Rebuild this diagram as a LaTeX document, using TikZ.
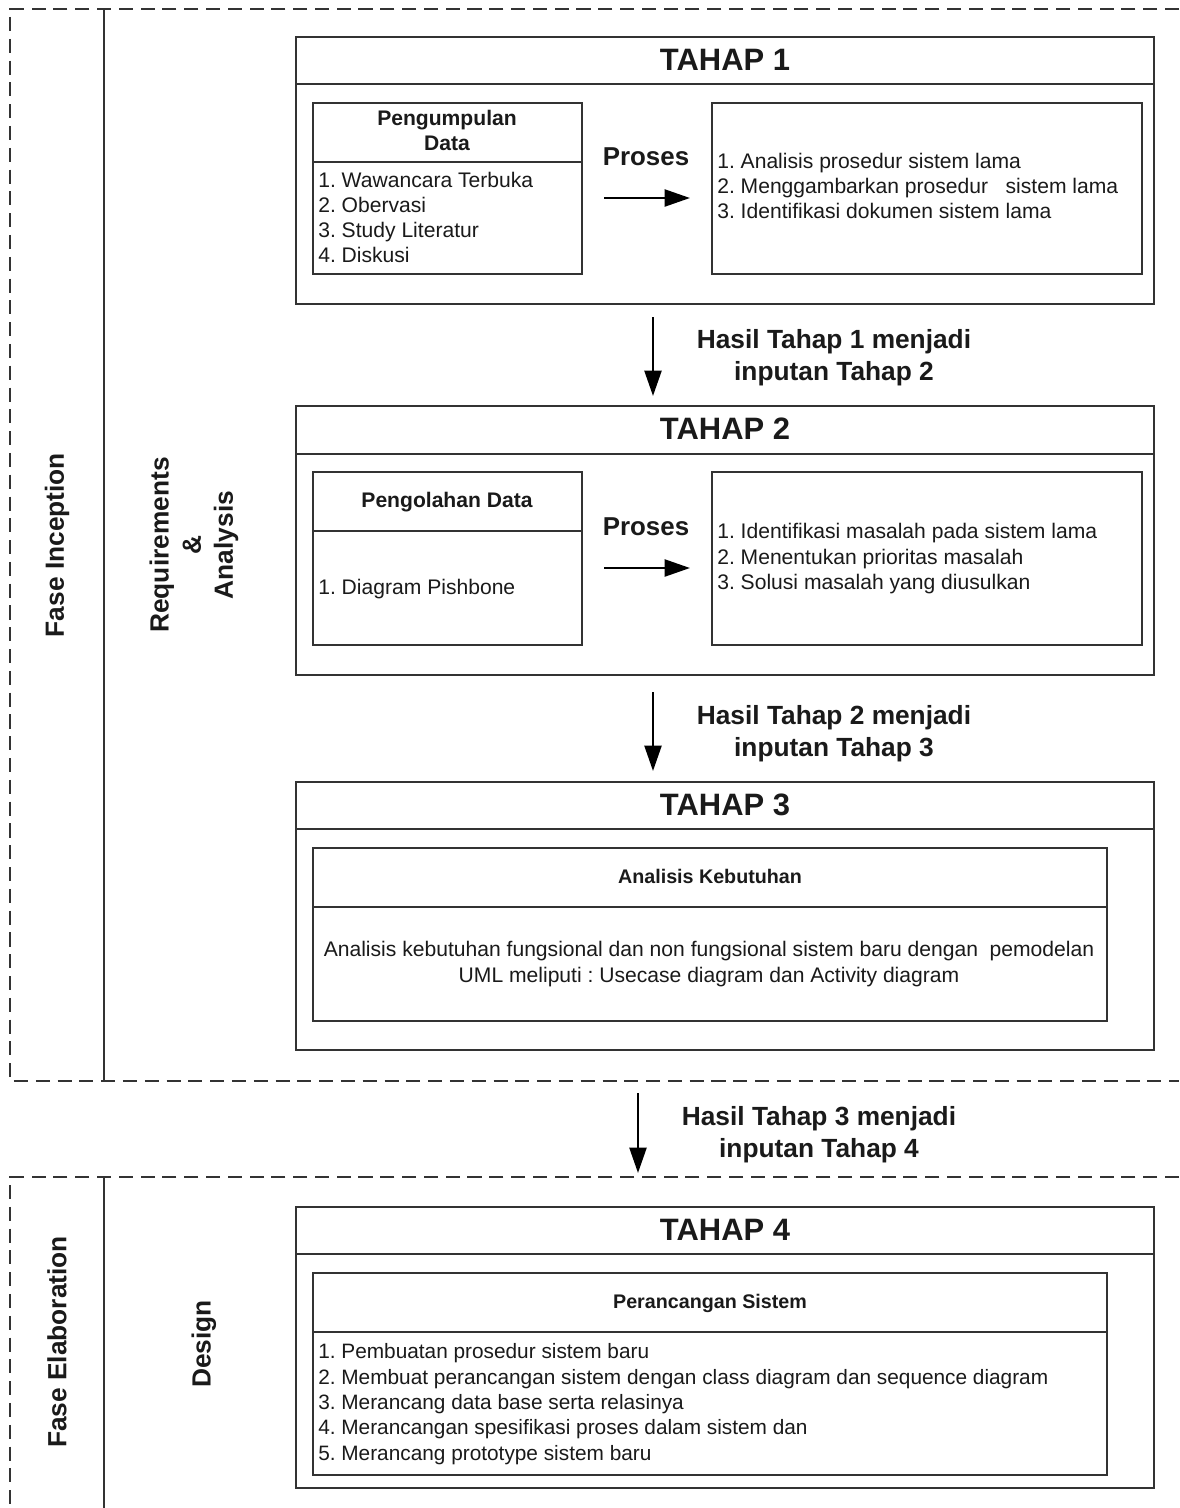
\documentclass[tikz,border=0pt]{standalone}
\usepackage{fontspec}
\setmainfont{Liberation Sans}
\usetikzlibrary{fit,arrows.meta}
\definecolor{linec}{HTML}{333333}
\definecolor{textc}{HTML}{1A1A1A}
\frenchspacing
\tikzset{
  box/.style={draw=linec, line width=1.4pt, inner sep=0pt, fit={#1}},
  sep/.style={draw=linec, line width=1.4pt},
  dashb/.style={draw=linec, line width=1.3pt, dash pattern=on 10pt off 5.5pt},
  lane/.style={draw=linec, line width=1.3pt},
  arr/.style={draw=black, line width=1.8pt, -{Triangle[length=18pt,width=12pt]}},
  title/.style={font=\fontsize{22}{26}\selectfont\bfseries, text=textc, inner sep=0pt},
  proses/.style={font=\fontsize{18.4}{22}\selectfont\bfseries, text=textc, inner sep=0pt, anchor=base},
  hasil/.style={font=\fontsize{18.7}{22.8}\selectfont\bfseries, text=textc, inner sep=0pt, anchor=base},
  body/.style={font=\fontsize{15}{18}\selectfont\frenchspacing, text=textc, inner sep=0pt, anchor=base west},
  bodyn/.style={font=\fontsize{14.8}{18}\selectfont\frenchspacing, text=textc, inner sep=0pt, anchor=base west},
  bodyc/.style={font=\fontsize{15}{18}\selectfont\frenchspacing, text=textc, inner sep=0pt, anchor=base},
  head/.style={font=\fontsize{15}{18}\selectfont\bfseries, text=textc, inner sep=0pt, anchor=base},
  headw/.style={font=\fontsize{14}{17}\selectfont\bfseries, text=textc, inner sep=0pt, anchor=base},
  side/.style={font=\fontsize{18.7}{22.8}\selectfont\bfseries, text=textc, inner sep=0pt, rotate=90, align=center},
}
\begin{document}
\begin{tikzpicture}[x=0.025cm,y=-0.025cm]
\useasboundingbox (0,0) rectangle (1179,1508);
\fill[white] (0,0) rectangle (1179,1508);

% ---------- phase frames ----------
\draw[dashb] (1179,9) -- (10,9) -- (10,1081) -- (1179,1081);
\draw[lane] (104,9) -- (104,1081);
\draw[dashb] (1179,1177) -- (10,1177) -- (10,1508);
\draw[lane] (104,1177) -- (104,1508);

\node[side] (fi) at (57,545) {Fase Inception};
\node[side] (ra) at (194,545) {Requirements\\\&\\Analysis};
\node[side] (fe) at (57,1342) {Fase Elaboration};
\node[side] (ds) at (204,1344) {Design};

% ---------- TAHAP 1 ----------
\node[box={(296,37) (1154,304)}] (t1) {};
\draw[sep] (296,84) -- (1154,84);
\node[title] (t1t) at (725,60) {TAHAP 1};
\node[box={(313,103) (582,274)}] (t1l) {};
\draw[sep] (313,162) -- (582,162);
\node[head] (t1h1) at (447,125) {Pengumpulan};
\node[head] (t1h2) at (447,150) {Data};
\node[body] (t1a) at (318,187) {1. Wawancara Terbuka};
\node[body] (t1b) at (318,212) {2. Obervasi};
\node[body] (t1c) at (318,237) {3. Study Literatur};
\node[body] (t1d) at (318,262) {4. Diskusi};
\node[proses] (p1) at (646,165) {Proses};
\coordinate (p1s) at (604,198);
\coordinate (p1e) at (690,198);
\draw[arr] (p1s) -- (p1e);
\node[box={(712,103) (1142,274)}] (t1r) {};
\node[body] (t1r1) at (717,168) {1. Analisis prosedur sistem lama};
\node[body] (t1r2) at (717,193) {2. Menggambarkan prosedur \ \ sistem lama};
\node[body] (t1r3) at (717,218) {3. Identifikasi dokumen sistem lama};

% ---------- arrow 1 ----------
\coordinate (a1s) at (653,317);
\coordinate (a1e) at (653,396);
\draw[arr] (a1s) -- (a1e);
\node[hasil] (h1a) at (834,348) {Hasil Tahap 1 menjadi};
\node[hasil] (h1b) at (834,380) {inputan Tahap 2};

% ---------- TAHAP 2 ----------
\node[box={(296,406) (1154,675)}] (t2) {};
\draw[sep] (296,454) -- (1154,454);
\node[title] (t2t) at (725,429) {TAHAP 2};
\node[box={(313,472) (582,645)}] (t2l) {};
\draw[sep] (313,531) -- (582,531);
\node[head] (t2h) at (447,507) {Pengolahan Data};
\node[body] (t2a) at (318,594) {1. Diagram Pishbone};
\node[proses] (p2) at (646,535) {Proses};
\coordinate (p2s) at (604,568);
\coordinate (p2e) at (690,568);
\draw[arr] (p2s) -- (p2e);
\node[box={(712,472) (1142,645)}] (t2r) {};
\node[body] (t2r1) at (717,538) {1. Identifikasi masalah pada sistem lama};
\node[body] (t2r2) at (717,564) {2. Menentukan prioritas masalah};
\node[body] (t2r3) at (717,589) {3. Solusi masalah yang diusulkan};

% ---------- arrow 2 ----------
\coordinate (a2s) at (653,692);
\coordinate (a2e) at (653,771);
\draw[arr] (a2s) -- (a2e);
\node[hasil] (h2a) at (834,724) {Hasil Tahap 2 menjadi};
\node[hasil] (h2b) at (834,756) {inputan Tahap 3};

% ---------- TAHAP 3 ----------
\node[box={(296,782) (1154,1050)}] (t3) {};
\draw[sep] (296,829) -- (1154,829);
\node[title] (t3t) at (725,805) {TAHAP 3};
\node[box={(313,848) (1107,1021)}] (t3i) {};
\draw[sep] (313,907) -- (1107,907);
\node[headw] (t3h) at (710,883) {Analisis Kebutuhan};
\node[bodyc] (t3a) at (709,956) {Analisis kebutuhan fungsional dan non fungsional sistem baru dengan \ pemodelan};
\node[bodyc] (t3b) at (709,982) {UML meliputi : Usecase diagram dan Activity diagram};

% ---------- arrow 3 ----------
\coordinate (a3s) at (638,1093);
\coordinate (a3e) at (638,1173);
\draw[arr] (a3s) -- (a3e);
\node[hasil] (h3a) at (819,1125) {Hasil Tahap 3 menjadi};
\node[hasil] (h3b) at (819,1157) {inputan Tahap 4};

% ---------- TAHAP 4 ----------
\node[box={(296,1207) (1154,1488)}] (t4) {};
\draw[sep] (296,1254) -- (1154,1254);
\node[title] (t4t) at (725,1230) {TAHAP 4};
\node[box={(313,1273) (1107,1475)}] (t4i) {};
\draw[sep] (313,1332) -- (1107,1332);
\node[headw] (t4h) at (710,1308) {Perancangan Sistem};
\node[bodyn] (t4a) at (318,1358) {1. Pembuatan prosedur sistem baru};
\node[bodyn] (t4b) at (318,1384) {2. Membuat perancangan sistem dengan class diagram dan sequence diagram};
\node[bodyn] (t4c) at (318,1409) {3. Merancang data base serta relasinya};
\node[bodyn] (t4d) at (318,1434) {4. Merancangan spesifikasi proses dalam sistem dan};
\node[bodyn] (t4e) at (318,1460) {5. Merancang prototype sistem baru};
\end{tikzpicture}
\end{document}
